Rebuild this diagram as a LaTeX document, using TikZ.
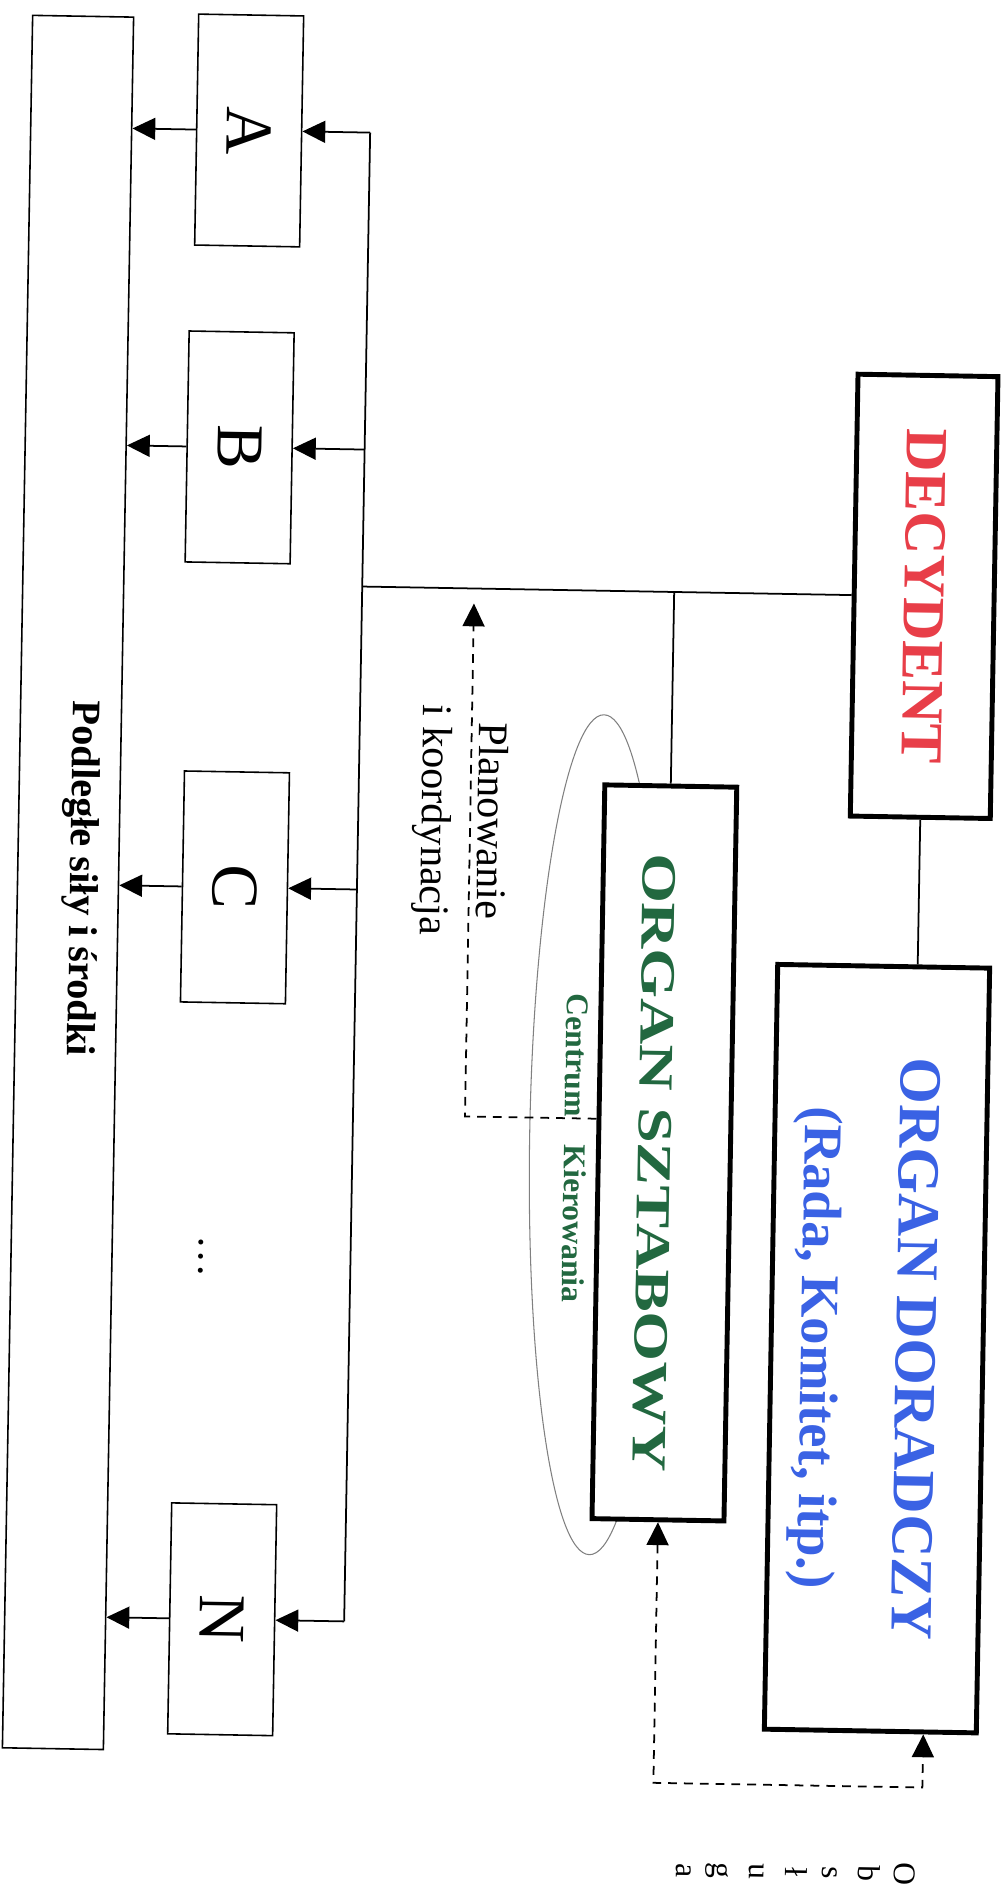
\documentclass[tikz,border=0pt]{standalone}
\usepackage{fontspec}
\setmainfont{Liberation Serif}
\usepackage{xcolor}
\definecolor{decred}{RGB}{232,62,72}
\definecolor{advblue}{RGB}{58,98,228}
\definecolor{staffgreen}{RGB}{34,104,64}
\usepackage{tikz}
\usetikzlibrary{arrows.meta,positioning,calc}

\begin{document}
\begin{tikzpicture}[x=0.02cm, y=0.02cm,
    >={Triangle[length=13pt,width=12.5pt]},
    topbox/.style={rectangle, draw=black, line width=2.8pt, fill=white, inner sep=0pt},
    unitbox/.style={rectangle, draw=black, line width=0.9pt, fill=white,
                    minimum width=4.62cm, minimum height=2.1cm, inner sep=0pt,
                    font=\fontsize{38}{40}\selectfont},
    basebox/.style={rectangle, draw=black, line width=0.9pt, fill=white,
                    minimum width=34.66cm, minimum height=2.02cm, inner sep=0pt},
    line/.style={line width=1pt},
    arr/.style={->, line width=1pt},
    darr/.style={line width=1pt, dash pattern=on 5pt off 4pt}
  ]
  \useasboundingbox (0,0) rectangle (1005,-1888);
  % the sheet is turned a quarter, and the scan leans by about a degree
  \begin{scope}[shift={(500,-944)}, rotate=-91, shift={(-944,-500)}, transform shape]
    \draw[gray, line width=0.6pt] (1133,600) ellipse [x radius=420, y radius=67];

    \node[topbox, minimum width=8.84cm, minimum height=2.8cm,
          text=decred, font=\bfseries\fontsize{34}{40}\selectfont] (dec) at (589,918) {DECYDENT};
    \node[topbox, minimum width=15.3cm, minimum height=4.24cm] (dor) at (1342,884) {};
    \node[text=advblue, align=center, font=\bfseries\fontsize{34}{54}\selectfont] (dortxt) at (1342,870)
      {ORGAN DORADCZY\\{\fontsize{31}{54}\selectfont(Rada, Komitet, itp.)}};
    \node[topbox, minimum width=14.68cm, minimum height=2.64cm] (szt) at (1150,668) {};
    \node[text=staffgreen, xscale=1.3, font=\bfseries\fontsize{28}{30}\selectfont] (szttxt) at (1160,658) {ORGAN SZTABOWY};
    \node[text=staffgreen, font=\bfseries\fontsize{18}{20}\selectfont] (ck) at (1147,579) {Centrum\hspace{16pt}Kierowania};

    \node[unitbox] (ua) at (135,235) {A};
    \node[unitbox] (ub) at (452,231) {B};
    \node[unitbox] (uc) at (892,234) {C};
    \node[unitbox] (un) at (1624,234) {N};
    \node[font=\fontsize{24}{26}\selectfont, anchor=base] (dots) at (1262,205) {\dots};

    \node[basebox] (sily) at (890,67) {};
    \node[font=\bfseries\fontsize{23}{26}\selectfont] (silytxt) at (886,79) {Podległe siły i środki};

    % connections
    \coordinate (bus) at (0,356);
    \draw[line] (ua.north |- bus) -- (un.north |- bus);
    \foreach \u in {ua,ub,uc,un}{
      \draw[arr] (\u.north |- bus) -- (\u.north);
      \draw[arr] (\u.south) -- (\u.south |- sily.north);
    }
    \draw[line] (dec.south) -- (dec.south |- bus);
    \draw[line] (szt.west) -- (szt.west -| dec.south);
    \draw[line] (dec.east) -- (dec.east -| dor.west);

    \coordinate (plan) at (1117,468);
    \draw[darr,->] (plan |- szt.south) -- (plan) -- ([xshift=0.3cm]plan -| dec.south);
    \node[font=\fontsize{24}{32}\selectfont, align=center] (plantxt) at (821,458) {Planowanie\\i koordynacja};

    \coordinate (loop) at (1780,937);
    \draw[darr,<->] (szt.east) -| (loop) -- (loop -| dor.east);
    \node[font=\fontsize{18}{20.7}\selectfont, align=center] (obs) at (1867,812) {O\\b\\s\\ł\\u\\g\\a};
  \end{scope}
\end{tikzpicture}
\end{document}
